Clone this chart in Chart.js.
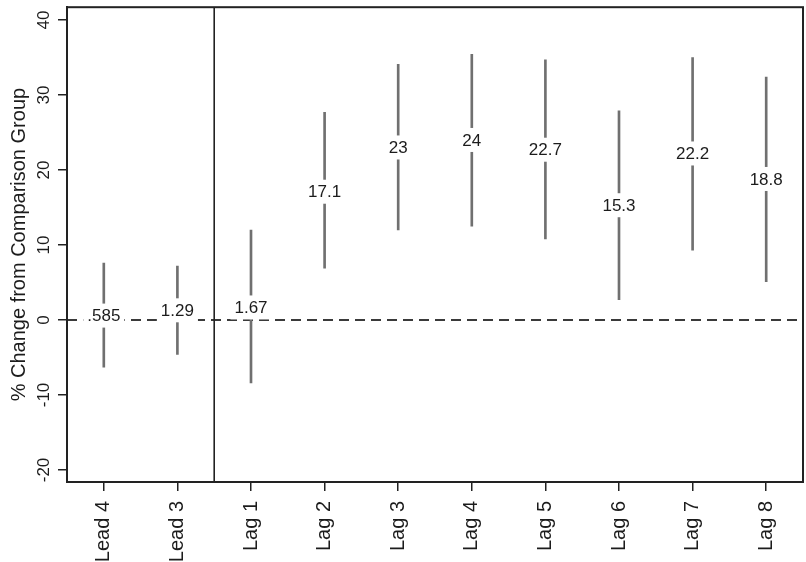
<!DOCTYPE html>
<html>
<head>
<meta charset="utf-8">
<script src="https://cdn.jsdelivr.net/npm/chart.js@4/dist/chart.umd.min.js"></script>
<style>
  html, body { margin: 0; padding: 0; background: #fff; }
  #wrap { width: 806px; height: 562px; }
</style>
</head>
<body>
<div id="wrap"><canvas id="c" width="806" height="562"></canvas></div>
<script>
// Event-study estimates: % change from comparison group, with confidence bounds
const periods   = ['Lead 4', 'Lead 3', 'Lag 1', 'Lag 2', 'Lag 3', 'Lag 4', 'Lag 5', 'Lag 6', 'Lag 7', 'Lag 8'];
const estimates = [0.585, 1.29, 1.67, 17.1, 23, 24, 22.7, 15.3, 22.2, 18.8];
const ciLower   = [-6.3, -4.6, -8.4, 6.9, 12.0, 12.5, 10.8, 2.7, 9.3, 5.1];
const ciUpper   = [7.6, 7.2, 12.0, 27.7, 34.1, 35.4, 34.7, 27.9, 35.0, 32.4];
const yTicks    = [-20, -10, 0, 10, 20, 30, 40];
const lastLeadIndex = 1; // treatment boundary sits after this period

const FONT = "'Liberation Sans', Arial, Helvetica, sans-serif";
const INK = '#1c1c1c';

// Stata-style number formatting: drop the leading zero on fractions
function fmt(v) {
  let s = String(v);
  if (v > 0 && v < 1) s = s.replace(/^0/, '');
  return s;
}

const decorations = {
  id: 'decorations',
  beforeDatasetsDraw(chart) {
    const { ctx, chartArea: a, scales: { y } } = chart;
    // reference line at zero
    const y0 = y.getPixelForValue(0);
    ctx.save();
    ctx.strokeStyle = '#3a3a3a';
    ctx.lineWidth = 2.2;
    ctx.setLineDash([10, 6]);
    ctx.beginPath();
    ctx.moveTo(a.left, y0);
    ctx.lineTo(a.right, y0);
    ctx.stroke();
    ctx.restore();
  },
  afterDatasetsDraw(chart) {
    const { ctx, scales: { x, y } } = chart;
    ctx.save();
    ctx.font = `17px ${FONT}`;
    ctx.textAlign = 'center';
    ctx.textBaseline = 'middle';
    estimates.forEach((v, i) => {
      const px = x.getPixelForValue(i);
      const py = y.getPixelForValue(v);
      const t = fmt(v);
      const w = ctx.measureText(t).width;
      ctx.fillStyle = '#fff';
      ctx.fillRect(px - w / 2 - 4, py - 12, w + 8, 24);
      ctx.fillStyle = INK;
      ctx.fillText(t, px, py + 1);
    });
    ctx.restore();
  },
  afterDraw(chart) {
    const { ctx, chartArea: a, scales: { x, y } } = chart;
    ctx.save();
    // vertical divider between leads and lags
    const xd = (x.getPixelForValue(lastLeadIndex) + x.getPixelForValue(lastLeadIndex + 1)) / 2;
    ctx.strokeStyle = '#222';
    ctx.lineWidth = 1.6;
    ctx.beginPath();
    ctx.moveTo(xd, a.top);
    ctx.lineTo(xd, a.bottom);
    ctx.stroke();
    // plot frame
    ctx.lineWidth = 2;
    ctx.strokeRect(a.left, a.top, a.right - a.left, a.bottom - a.top);
    // rotated y tick labels
    ctx.fillStyle = INK;
    ctx.font = `17px ${FONT}`;
    ctx.textAlign = 'center';
    ctx.textBaseline = 'middle';
    yTicks.forEach(v => {
      const py = y.getPixelForValue(v);
      ctx.save();
      ctx.translate(44, py);
      ctx.rotate(-Math.PI / 2);
      ctx.fillText(String(v), 0, 0);
      ctx.restore();
    });
    ctx.restore();
  }
};

new Chart(document.getElementById('c'), {
  type: 'bar',
  data: {
    labels: periods,
    datasets: [{
      data: ciLower.map((lo, i) => [lo, ciUpper[i]]),
      backgroundColor: '#707070',
      borderWidth: 0,
      barThickness: 2
    }]
  },
  options: {
    responsive: false,
    animation: false,
    events: [],
    layout: { padding: { top: 7, right: 3, left: 0, bottom: 0 } },
    plugins: { legend: { display: false }, tooltip: { enabled: false } },
    scales: {
      x: {
        offset: true,
        grid: { display: true, offset: false, drawOnChartArea: false, drawTicks: true, tickLength: 9, color: '#222', lineWidth: 1.5 },
        border: { display: true, color: '#222', width: 2 },
        ticks: { minRotation: 90, maxRotation: 90, autoSkip: false, padding: 10, color: INK, font: { size: 20, family: FONT } },
        afterFit(s) { s.height = 80; }
      },
      y: {
        min: -21.6,
        max: 41.7,
        afterBuildTicks(s) { s.ticks = yTicks.map(v => ({ value: v })); },
        grid: { display: true, drawOnChartArea: false, drawTicks: true, tickLength: 9, color: '#222', lineWidth: 1.5 },
        border: { display: true, color: '#222', width: 2 },
        ticks: { callback: () => '', padding: 0 },
        title: { display: true, text: '% Change from Comparison Group', color: INK, font: { size: 20, family: FONT }, padding: { top: 7, bottom: 0 } },
        afterFit(s) { s.width = 67; }
      }
    }
  },
  plugins: [decorations]
});
</script>
</body>
</html>
